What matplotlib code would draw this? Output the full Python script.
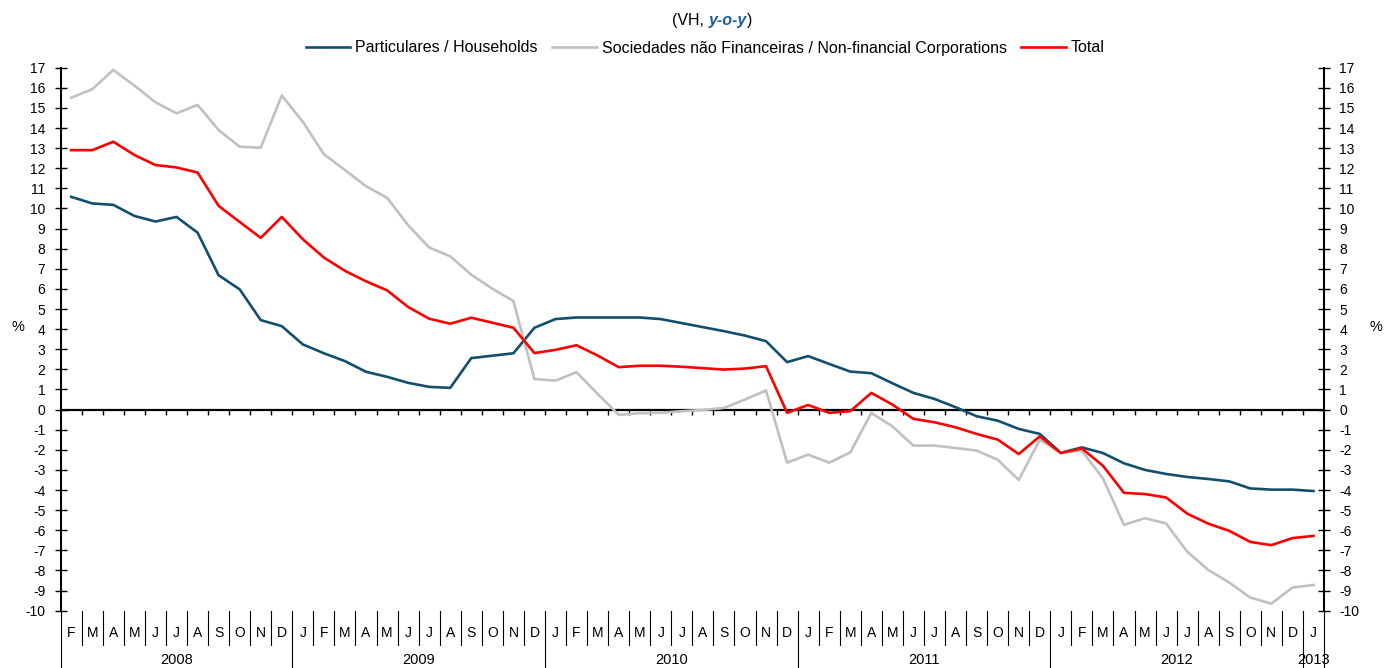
import matplotlib
matplotlib.use("Agg")
import matplotlib.pyplot as plt

plt.rcParams['font.family'] = ['Liberation Sans', 'DejaVu Sans']
plt.rcParams['axes.unicode_minus'] = False

# ---- data ----
months = (["F", "M", "A", "M", "J", "J", "A", "S", "O", "N", "D"]
          + ["J", "F", "M", "A", "M", "J", "J", "A", "S", "O", "N", "D"] * 4
          + ["J"])
years = ["2008", "2009", "2010", "2011", "2012", "2013"]
months_per_year = [11, 12, 12, 12, 12, 1]

households = [10.58, 10.25, 10.18, 9.63, 9.35, 9.58, 8.80, 6.68, 5.98, 4.45, 4.15,
              3.24, 2.80, 2.41, 1.88, 1.63, 1.33, 1.13, 1.08, 2.56, 2.68, 2.80, 4.07,
              4.50, 4.58, 4.58, 4.58, 4.58, 4.50, 4.30, 4.10, 3.90, 3.68, 3.40, 2.36,
              2.66, 2.27, 1.89, 1.81, 1.31, 0.83, 0.53, 0.12, -0.33, -0.55, -0.96, -1.21,
              -2.15, -1.88, -2.16, -2.67, -3.00, -3.20, -3.35, -3.45, -3.57, -3.92, -3.98, -3.98,
              -4.05]
nonfin = [15.51, 15.93, 16.89, 16.11, 15.28, 14.73, 15.15, 13.90, 13.07, 13.02, 15.62,
          14.31, 12.70, 11.91, 11.11, 10.53, 9.17, 8.06, 7.62, 6.71, 6.01, 5.40, 1.52,
          1.44, 1.86, 0.78, -0.26, -0.18, -0.16, -0.08, -0.02, 0.08, 0.50, 0.95, -2.64,
          -2.24, -2.64, -2.13, -0.17, -0.83, -1.79, -1.79, -1.91, -2.04, -2.49, -3.50, -1.51,
          -2.14, -2.04, -3.42, -5.73, -5.40, -5.66, -7.06, -7.97, -8.60, -9.35, -9.65, -8.85,
          -8.72]
total = [12.90, 12.90, 13.32, 12.66, 12.16, 12.04, 11.79, 10.13, 9.33, 8.54, 9.58,
         8.47, 7.56, 6.90, 6.38, 5.93, 5.10, 4.52, 4.27, 4.57, 4.32, 4.07, 2.81,
         2.97, 3.20, 2.69, 2.11, 2.18, 2.18, 2.13, 2.06, 1.99, 2.04, 2.16, -0.16,
         0.23, -0.16, -0.08, 0.83, 0.25, -0.46, -0.63, -0.88, -1.21, -1.49, -2.21, -1.33,
         -2.16, -1.93, -2.79, -4.14, -4.20, -4.37, -5.17, -5.67, -6.03, -6.58, -6.74, -6.39,
         -6.28]

series_labels = ["Particulares / Households",
                 "Sociedades não Financeiras / Non-financial Corporations",
                 "Total"]
series_colors = ["#134E6F", "#C0C0C0", "#FF0000"]

W, H = 1384, 668
fig = plt.figure(figsize=(W / 100, H / 100), dpi=100)
L, R, T, B = 60.7, 1324, 67.7, 610.7
ax = fig.add_axes([L / W, 1 - B / H, (R - L) / W, (B - T) / H])

n = len(months)
x = list(range(n))
for vals, lab, col in zip([households, nonfin, total], series_labels, series_colors):
    ax.plot(x, vals, color=col, lw=1.9, label=lab, solid_joinstyle='round')

ax.set_xlim(-0.5, n - 0.5)
ax.set_ylim(-10, 17)
ax.set_yticks(range(-10, 18))
ax.set_xticks([])
for s in ["top", "bottom"]:
    ax.spines[s].set_visible(False)
for s in ["left", "right"]:
    ax.spines[s].set_linewidth(1.5)
ax.tick_params(axis='y', left=True, right=True, labelleft=True, labelright=True,
               direction='inout', length=8, width=1, pad=7, labelsize=10)

# zero line with ticks at category boundaries
ax.axhline(0, color='black', lw=1.6, zorder=1)
ax.vlines([k - 0.5 for k in range(1, n)], -0.25, 0, color='black', lw=1, zorder=1)

trans = ax.get_xaxis_transform()
axh = B - T
def ay(py):
    return (B - py) / axh

# month labels and separators
for i, m in enumerate(months):
    ax.text(i, ay(633), m, transform=trans, ha='center', va='center', fontsize=10,
            clip_on=False)
bounds = []
c = 0
for cnt in months_per_year:
    c += cnt
    bounds.append(c)
for k in range(1, n):
    ytop = ay(668) if k in bounds else ay(645)
    ax.plot([k - 0.5, k - 0.5], [0, ytop], transform=trans, color='black', lw=0.8,
            clip_on=False)
for xe in [-0.5, n - 0.5]:
    ax.plot([xe, xe], [0, ay(668)], transform=trans, color='black', lw=0.8, clip_on=False)

start = 0
for yr, cnt in zip(years, months_per_year):
    ax.text(start + (cnt - 1) / 2, ay(660), yr, transform=trans, ha='center', va='center',
            fontsize=10.5, clip_on=False)
    start += cnt

# % labels
fig.text(18 / W, 1 - 327 / H, "%", ha='center', va='center', fontsize=10.5)
fig.text(1376 / W, 1 - 327 / H, "%", ha='center', va='center', fontsize=10.5)

# title
t2 = fig.text(728 / W, 1 - 21 / H, "y-o-y", ha='center', va='center', fontsize=11.5,
              fontweight='bold', fontstyle='italic', color='#1F5C99')
a1 = plt.annotate("(VH, ", xy=(0, 0), xycoords=t2, ha='right', va='bottom', fontsize=11.5,
                  annotation_clip=False)
a3 = plt.annotate(")", xy=(1, 0), xycoords=t2, ha='left', va='bottom', fontsize=11.5,
                  annotation_clip=False)

leg = fig.legend(loc='center', bbox_to_anchor=(705 / W, 1 - 48 / H), ncol=3, frameon=False,
                 fontsize=11.5, handlelength=2.8, handletextpad=0.3, columnspacing=0.9)

fig.savefig("out.png", dpi=100)
